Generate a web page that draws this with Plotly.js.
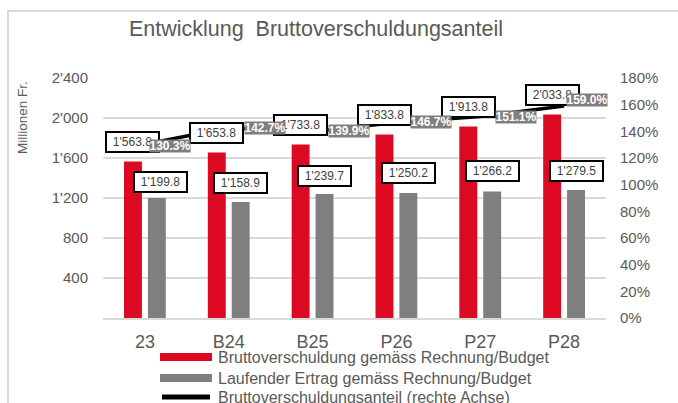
<!DOCTYPE html>
<html>
<head>
<meta charset="utf-8">
<script src="https://cdn.plot.ly/plotly-3.0.1.min.js"></script>
<style>
  html, body { margin: 0; padding: 0; width: 678px; height: 403px; overflow: hidden; background: #fff; }
  #frame { position: absolute; left: 7px; top: 10px; width: 700px; height: 420px; border: 2px solid #d9d9d9; box-sizing: border-box; }
  #chart { position: absolute; left: 0; top: 0; width: 678px; height: 403px; }
</style>
</head>
<body>
<div id="frame"></div>
<div id="chart"></div>
<script>
// ---- data ----
const categories = ['23', 'B24', 'B25', 'P26', 'P27', 'P28'];
const bruttoverschuldung = [1563.8, 1653.8, 1733.8, 1833.8, 1913.8, 2033.8];
const laufenderErtrag = [1199.8, 1158.9, 1239.7, 1250.2, 1266.2, 1279.5];
const anteil = [130.3, 142.7, 139.9, 146.7, 151.1, 159.0];
const leftTickVals = [400, 800, 1200, 1600, 2000, 2400];
const leftTickText = ["400", "800", "1'200", "1'600", "2'000", "2'400"];
const seriesNames = [
  'Bruttoverschuldung gemäss Rechnung/Budget',
  'Laufender Ertrag gemäss Rechnung/Budget',
  'Bruttoverschuldungsanteil (rechte Achse)'
];
const titleText = 'Entwicklung  Bruttoverschuldungsanteil';
const yTitleText = 'Millionen Fr.';

// ---- styles ----
const RED = '#DB0A22';
const GRAY = '#7F7F7F';
const TXT = '#595959';
const FONT = '"Liberation Sans", Arial, sans-serif';

// plot area in pixels
const L = 103, R = 606, T = 78, B = 318, W = 678, H = 403;
const px = x => (x - L) / (R - L);
const py = y => (B - y) / (B - T);

function fmt(v) {
  const s = v.toFixed(1);
  const [i, d] = s.split('.');
  return i.replace(/\B(?=(\d{3})+(?!\d))/g, "'") + '.' + d;
}

// label offsets (pixels) - styling only
const grayOff = [[16, 16.5], [12, 19.5], [12, 18], [12, 19.5], [12, 20], [12, 19.5]];
const pctOff = [[4, -2], [15, 0], [15, 0], [14, 0], [15, 0], [2, 6.5]];

const traces = [
  { type: 'bar', x: categories, y: bruttoverschuldung, name: seriesNames[0],
    marker: { color: RED }, hoverinfo: 'skip' },
  { type: 'bar', x: categories, y: laufenderErtrag, name: seriesNames[1],
    marker: { color: GRAY }, hoverinfo: 'skip' },
  { type: 'scatter', mode: 'lines', x: categories, y: anteil, yaxis: 'y2', name: seriesNames[2],
    line: { color: '#000000', width: 3.5 }, hoverinfo: 'skip' }
];

const annotations = [];
// red bar labels
categories.forEach((c, i) => {
  annotations.push({ x: i, y: bruttoverschuldung[i], xref: 'x', yref: 'y',
    text: fmt(bruttoverschuldung[i]), showarrow: false, xanchor: 'center', yanchor: 'middle',
    xshift: -12, yshift: 20, bgcolor: '#ffffff', bordercolor: '#000000', borderwidth: 2,
    borderpad: 1, width: 49, height: 16, font: { family: FONT, size: 12, color: '#404040' } });
});
// gray bar labels
categories.forEach((c, i) => {
  annotations.push({ x: i, y: laufenderErtrag[i], xref: 'x', yref: 'y',
    text: fmt(laufenderErtrag[i]), showarrow: false, xanchor: 'center', yanchor: 'middle',
    xshift: grayOff[i][0], yshift: grayOff[i][1], bgcolor: '#ffffff', bordercolor: '#000000', borderwidth: 2,
    borderpad: 1, width: 49, height: 16, font: { family: FONT, size: 12, color: '#404040' } });
});
// percent labels (drawn above the bar labels)
categories.forEach((c, i) => {
  annotations.push({ x: i, y: anteil[i], xref: 'x', yref: 'y2',
    text: '<b>' + anteil[i].toFixed(1) + '%</b>', showarrow: false, xanchor: 'left', yanchor: 'middle',
    xshift: pctOff[i][0], yshift: pctOff[i][1], bgcolor: GRAY, borderpad: 0, width: 40, height: 12,
    font: { family: FONT, size: 12, color: '#ffffff' } });
});
// y axis title
annotations.push({ x: px(22), y: py(118), xref: 'paper', yref: 'paper', text: yTitleText,
  showarrow: false, textangle: -90, xanchor: 'center', yanchor: 'middle',
  font: { family: FONT, size: 13.5, color: TXT } });

// custom legend
const legendRows = [357, 378, 397];
const shapes = [
  { type: 'rect', xref: 'paper', yref: 'paper', x0: px(160), x1: px(212), y0: py(353), y1: py(361),
    fillcolor: RED, line: { width: 0 } },
  { type: 'rect', xref: 'paper', yref: 'paper', x0: px(160), x1: px(212), y0: py(374), y1: py(382),
    fillcolor: GRAY, line: { width: 0 } },
  { type: 'line', xref: 'paper', yref: 'paper', x0: px(162), x1: px(210), y0: py(397), y1: py(397),
    line: { color: '#000000', width: 5 } }
];
seriesNames.forEach((n, i) => {
  annotations.push({ x: px(216), y: py(legendRows[i]), xref: 'paper', yref: 'paper', text: n,
    showarrow: false, xanchor: 'left', yanchor: 'middle',
    font: { family: FONT, size: 16, color: TXT } });
});

const layout = {
  width: W, height: H,
  margin: { l: L, r: W - R, t: T, b: H - B, pad: 0 },
  paper_bgcolor: 'rgba(0,0,0,0)', plot_bgcolor: 'rgba(0,0,0,0)',
  font: { family: FONT, color: TXT },
  title: { text: titleText, x: 316 / W, xanchor: 'center', xref: 'container',
    y: 1 - 28 / H, yanchor: 'middle', yref: 'container',
    font: { family: FONT, size: 21.5, color: TXT } },
  showlegend: false,
  barmode: 'group', bargap: 0.43, bargroupgap: 0.25,
  xaxis: { type: 'category', range: [-0.5, 5.5], autorange: false, showgrid: false, zeroline: false, showline: true,
    linecolor: '#d9d9d9', linewidth: 2, ticks: '', ticklabelstandoff: 6,
    tickfont: { family: FONT, size: 18, color: TXT } },
  yaxis: { range: [0, 2400], autorange: false, tickvals: leftTickVals, ticktext: leftTickText,
    showgrid: true, gridcolor: '#d9d9d9', gridwidth: 1.5, zeroline: false, showline: false,
    ticks: '', ticklabelstandoff: 14, tickfont: { family: FONT, size: 15, color: TXT } },
  yaxis2: { range: [0, 180], autorange: false, overlaying: 'y', side: 'right', dtick: 20, ticksuffix: '%',
    showgrid: false, zeroline: false, showline: false, ticks: '', ticklabelstandoff: 13,
    tickfont: { family: FONT, size: 15, color: TXT } },
  annotations: annotations,
  shapes: shapes
};

Plotly.newPlot('chart', traces, layout, { displayModeBar: false, staticPlot: true });
</script>
</body>
</html>
